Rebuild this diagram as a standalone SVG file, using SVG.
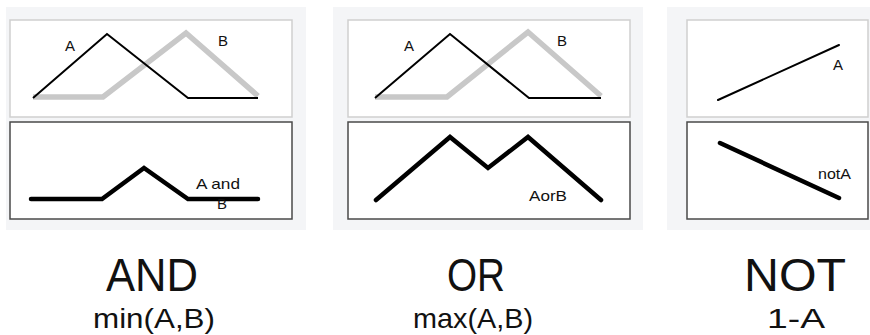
<svg xmlns="http://www.w3.org/2000/svg" width="870" height="335" viewBox="0 0 870 335">
<style>
.bg{fill:#f4f5f7}
.top{fill:#fff;stroke:#cfcfcf;stroke-width:1.5}
.bot{fill:#fff;stroke:#4a4a4a;stroke-width:1.5}
.a{fill:none;stroke:#000;stroke-width:2;stroke-linejoin:miter}
.b{fill:none;stroke:#c8c8c8;stroke-width:5.5;stroke-linejoin:miter}
.r{fill:none;stroke:#000;stroke-width:4.5;stroke-linejoin:miter;stroke-linecap:round}
.lbl{font-family:"Liberation Sans",Arial,sans-serif;font-size:15px;fill:#111}
.big{font-family:"Liberation Sans",Arial,sans-serif;font-size:46px;fill:#111;text-anchor:middle}
.sub{font-family:"Liberation Sans",Arial,sans-serif;font-size:28px;fill:#111;text-anchor:middle}
</style>
<g id="panel-and">
<rect class="bg" x="6" y="7" width="300" height="223"/>
<rect class="top" x="10" y="20" width="282" height="97"/>
<rect class="bot" x="10" y="122" width="282" height="97"/>
<polyline class="b" points="33,97 103,97 186,33 258,96"/>
<polyline class="a" points="33,98 107,34 188,98 258,98"/>
<text class="lbl" x="65" y="51">A</text>
<text class="lbl" x="218" y="46">B</text>
<polyline class="r" points="31,199 102,199 144,168 188,199 258,199"/>
<text class="lbl" x="196" y="189" textLength="44" lengthAdjust="spacingAndGlyphs">A and</text>
<text class="lbl" x="217" y="209">B</text>
</g>
<g id="panel-or">
<rect class="bg" x="333" y="7" width="310" height="223"/>
<rect class="top" x="348" y="20" width="282" height="97"/>
<rect class="bot" x="348" y="122" width="282" height="97"/>
<polyline class="b" points="375,97 447,97 528,32 601,96"/>
<polyline class="a" points="375,98 450,34 529,98 601,98"/>
<text class="lbl" x="404" y="51">A</text>
<text class="lbl" x="557" y="46">B</text>
<polyline class="r" points="376,200 450,137 488,168 528,137 601,200"/>
<text class="lbl" x="529" y="201" textLength="38" lengthAdjust="spacingAndGlyphs">AorB</text>
</g>
<g id="panel-not">
<rect class="bg" x="667" y="7" width="203" height="223"/>
<rect class="top" x="687" y="20" width="181" height="97"/>
<rect class="bot" x="687" y="122" width="181" height="97"/>
<line class="a" x1="718" y1="100" x2="839" y2="45" stroke-linecap="round"/>
<text class="lbl" x="833" y="70">A</text>
<line class="r" x1="720" y1="143" x2="839" y2="198"/>
<text class="lbl" x="818" y="179" textLength="33" lengthAdjust="spacingAndGlyphs">notA</text>
</g>
<g id="captions">
<text class="big" x="152" y="291" textLength="92" lengthAdjust="spacingAndGlyphs">AND</text>
<text class="sub" x="154" y="328" textLength="122" lengthAdjust="spacingAndGlyphs">min(A,B)</text>
<text class="big" x="476" y="291" textLength="58" lengthAdjust="spacingAndGlyphs">OR</text>
<text class="sub" x="473" y="328" textLength="120" lengthAdjust="spacingAndGlyphs">max(A,B)</text>
<text class="big" x="795" y="291" textLength="102" lengthAdjust="spacingAndGlyphs">NOT</text>
<text class="sub" x="796" y="328" textLength="58" lengthAdjust="spacingAndGlyphs">1-A</text>
</g>
</svg>
